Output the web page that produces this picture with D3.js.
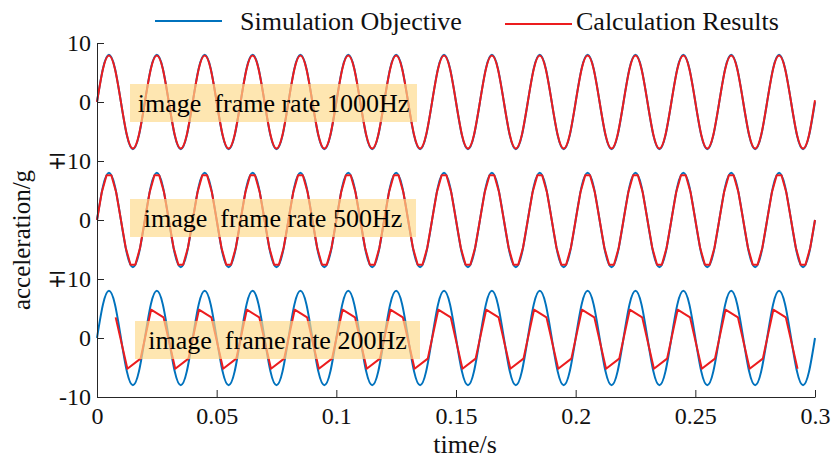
<!DOCTYPE html>
<html>
<head>
<meta charset="utf-8">
<script src="https://cdn.jsdelivr.net/npm/d3@7"></script>
<style>
  html, body { margin: 0; padding: 0; background: #fff; }
  svg { display: block; }
  svg text { font-family: 'Liberation Serif', 'Times New Roman', Times, 'DejaVu Serif', serif; }
  .axis path, .axis line { stroke: #262626; stroke-width: 1; }
  .axis text { fill: #111; font-size: 24px; font-family: 'Liberation Serif', 'Times New Roman', Times, 'DejaVu Serif', serif; }
  .panel-label { white-space: pre; font-size: 26px; fill: #000; }
</style>
</head>
<body>
<svg id="chart" width="837" height="460"></svg>
<script>
// ── Data ──────────────────────────────────────────────────────────────────────
// Simulation objective, sampled every 2.5 ms (one row = one 20 ms cycle)
const SIM_STEP = 0.0025;
const simValues = [
  0, 5.7, 8, 5.7, 0, -5.7, -8, -5.7,
  0, 5.7, 8, 5.7, 0, -5.7, -8, -5.7,
  0, 5.7, 8, 5.7, 0, -5.7, -8, -5.7,
  0, 5.7, 8, 5.7, 0, -5.7, -8, -5.7,
  0, 5.7, 8, 5.7, 0, -5.7, -8, -5.7,
  0, 5.7, 8, 5.7, 0, -5.7, -8, -5.7,
  0, 5.7, 8, 5.7, 0, -5.7, -8, -5.7,
  0, 5.7, 8, 5.7, 0, -5.7, -8, -5.7,
  0, 5.7, 8, 5.7, 0, -5.7, -8, -5.7,
  0, 5.7, 8, 5.7, 0, -5.7, -8, -5.7,
  0, 5.7, 8, 5.7, 0, -5.7, -8, -5.7,
  0, 5.7, 8, 5.7, 0, -5.7, -8, -5.7,
  0, 5.7, 8, 5.7, 0, -5.7, -8, -5.7,
  0, 5.7, 8, 5.7, 0, -5.7, -8, -5.7,
  0, 5.7, 8, 5.7, 0, -5.7, -8, -5.7,
  0
];

// Calculation results at 1000 Hz frame rate (read every 2.5 ms)
const RES1000_STEP = 0.0025;
const res1000Values = [
  0, 5.6, 7.9, 5.6, 0, -5.6, -7.9, -5.6,
  0, 5.6, 7.9, 5.6, 0, -5.6, -7.9, -5.6,
  0, 5.6, 7.9, 5.6, 0, -5.6, -7.9, -5.6,
  0, 5.6, 7.9, 5.6, 0, -5.6, -7.9, -5.6,
  0, 5.6, 7.9, 5.6, 0, -5.6, -7.9, -5.6,
  0, 5.6, 7.9, 5.6, 0, -5.6, -7.9, -5.6,
  0, 5.6, 7.9, 5.6, 0, -5.6, -7.9, -5.6,
  0, 5.6, 7.9, 5.6, 0, -5.6, -7.9, -5.6,
  0, 5.6, 7.9, 5.6, 0, -5.6, -7.9, -5.6,
  0, 5.6, 7.9, 5.6, 0, -5.6, -7.9, -5.6,
  0, 5.6, 7.9, 5.6, 0, -5.6, -7.9, -5.6,
  0, 5.6, 7.9, 5.6, 0, -5.6, -7.9, -5.6,
  0, 5.6, 7.9, 5.6, 0, -5.6, -7.9, -5.6,
  0, 5.6, 7.9, 5.6, 0, -5.6, -7.9, -5.6,
  0, 5.6, 7.9, 5.6, 0, -5.6, -7.9, -5.6,
  0.3
];

// Calculation results at 500 Hz frame rate (one sample every 2 ms)
const RES500_STEP = 0.002;
const res500Values = [
  0, 4.7, 7.6, 7.6, 4.7, 0, -4.7, -7.6, -7.6, -4.7,
  0, 4.7, 7.6, 7.6, 4.7, 0, -4.7, -7.6, -7.6, -4.7,
  0, 4.7, 7.6, 7.6, 4.7, 0, -4.7, -7.6, -7.6, -4.7,
  0, 4.7, 7.6, 7.6, 4.7, 0, -4.7, -7.6, -7.6, -4.7,
  0, 4.7, 7.6, 7.6, 4.7, 0, -4.7, -7.6, -7.6, -4.7,
  0, 4.7, 7.6, 7.6, 4.7, 0, -4.7, -7.6, -7.6, -4.7,
  0, 4.7, 7.6, 7.6, 4.7, 0, -4.7, -7.6, -7.6, -4.7,
  0, 4.7, 7.6, 7.6, 4.7, 0, -4.7, -7.6, -7.6, -4.7,
  0, 4.7, 7.6, 7.6, 4.7, 0, -4.7, -7.6, -7.6, -4.7,
  0, 4.7, 7.6, 7.6, 4.7, 0, -4.7, -7.6, -7.6, -4.7,
  0, 4.7, 7.6, 7.6, 4.7, 0, -4.7, -7.6, -7.6, -4.7,
  0, 4.7, 7.6, 7.6, 4.7, 0, -4.7, -7.6, -7.6, -4.7,
  0, 4.7, 7.6, 7.6, 4.7, 0, -4.7, -7.6, -7.6, -4.7,
  0, 4.7, 7.6, 7.6, 4.7, 0, -4.7, -7.6, -7.6, -4.7,
  0, 4.7, 7.6, 7.6, 4.7, 0, -4.7, -7.6, -7.6, -4.7,
  0
];

// Calculation results at 200 Hz frame rate (uneven timestamps)
const res200Time = [
  0.0078, 0.0127, 0.0182, 0.0226,
  0.0278, 0.0327, 0.0382, 0.0426,
  0.0478, 0.0527, 0.0582, 0.0626,
  0.0678, 0.0727, 0.0782, 0.0826,
  0.0878, 0.0927, 0.0982, 0.1026,
  0.1078, 0.1127, 0.1182, 0.1226,
  0.1278, 0.1327, 0.1382, 0.1426,
  0.1478, 0.1527, 0.1582, 0.1626,
  0.1678, 0.1727, 0.1782, 0.1826,
  0.1878, 0.1927, 0.1982, 0.2026,
  0.2078, 0.2127, 0.2182, 0.2226,
  0.2278, 0.2327, 0.2382, 0.2426,
  0.2478, 0.2527, 0.2582, 0.2626,
  0.2678, 0.2727, 0.2782, 0.2826,
  0.2878, 0.2927
];
const res200Values = [
  3.5, -5.2, -3.5, 4.8,
  3.5, -5.2, -3.5, 4.8,
  3.5, -5.2, -3.5, 4.8,
  3.5, -5.2, -3.5, 4.8,
  3.5, -5.2, -3.5, 4.8,
  3.5, -5.2, -3.5, 4.8,
  3.5, -5.2, -3.5, 4.8,
  3.5, -5.2, -3.5, 4.8,
  3.5, -5.2, -3.5, 4.8,
  3.5, -5.2, -3.5, 4.8,
  3.5, -5.2, -3.5, 4.8,
  3.5, -5.2, -3.5, 4.8,
  3.5, -5.2, -3.5, 4.8,
  3.5, -5.2, -3.5, 4.8,
  3.5, -5.2
];

const xTicks      = [0, 0.05, 0.1, 0.15, 0.2, 0.25, 0.3];
const xTickLabels = ['0', '0.05', '0.1', '0.15', '0.2', '0.25', '0.3'];
const yTickValues = [[10, 0, -10], [0, -10], [0, -10]];
const yTickLabels = [['10', '0', '\u221310'], ['0', '\u221310'], ['0', '-10']];
const panelLabels = ['image  frame rate 1000Hz', 'image  frame rate 500Hz', 'image  frame rate 200Hz'];
const seriesNames = ['Simulation Objective', 'Calculation Results'];

// ── Layout & style ────────────────────────────────────────────────────────────
const BLUE = '#0072bd';
const RED  = '#ec1c1e';
const plotLeft = 97, plotRight = 815, plotTop = 43, panelH = 118;

// label boxes, px offsets relative to each panel's zero line
const boxes = [
  { x0: 130, x1: 417, top: -18, bottom: 20 },
  { x0: 130, x1: 416, top: -21, bottom: 17 },
  { x0: 135, x1: 420, top: -17, bottom: 21 },
];

const svg = d3.select('#chart');

const x = d3.scaleLinear().domain([0, 0.3]).range([plotLeft, plotRight]);

const simPts  = simValues.map((v, i) => ({ t: i * SIM_STEP, v }));
const r1000   = res1000Values.map((v, i) => ({ t: i * RES1000_STEP, v }));
const r500    = res500Values.map((v, i) => ({ t: i * RES500_STEP, v }));
const r200    = res200Values.map((v, i) => ({ t: res200Time[i], v }));

const results = [
  { pts: r1000, curve: d3.curveNatural },
  { pts: r500,  curve: d3.curveLinear },
  { pts: r200,  curve: d3.curveLinear },
];

results.forEach((res, i) => {
  const y = d3.scaleLinear()
    .domain([-10, 10])
    .range([plotTop + (i + 1) * panelH, plotTop + i * panelH]);

  const line = curve => d3.line().x(d => x(d.t)).y(d => y(d.v)).curve(curve);

  const g = svg.append('g');

  g.append('path')
    .datum(simPts)
    .attr('fill', 'none').attr('stroke', BLUE).attr('stroke-width', 2)
    .attr('d', line(d3.curveNatural));

  g.append('path')
    .datum(res.pts)
    .attr('fill', 'none').attr('stroke', RED).attr('stroke-width', 2)
    .attr('stroke-linejoin', 'round')
    .attr('d', line(res.curve));

  // translucent label box
  const b = boxes[i];
  const y0 = y(0);
  g.append('rect')
    .attr('x', b.x0).attr('y', y0 + b.top)
    .attr('width', b.x1 - b.x0).attr('height', b.bottom - b.top)
    .attr('fill', 'rgb(254,218,140)').attr('fill-opacity', 0.68);
  g.append('text')
    .attr('class', 'panel-label')
    .attr('x', (b.x0 + b.x1) / 2).attr('y', y0 + (b.top + b.bottom) / 2 + 9)
    .attr('text-anchor', 'middle')
    .text(panelLabels[i]);

  // left axis piece for this panel
  svg.append('g').attr('class', 'axis')
    .attr('transform', `translate(${plotLeft},0)`)
    .call(d3.axisLeft(y)
      .tickValues(yTickValues[i])
      .tickFormat((d, j) => yTickLabels[i][j])
      .tickSizeInner(-7).tickSizeOuter(0).tickPadding(6));
});

// bottom axis
svg.append('g').attr('class', 'axis')
  .attr('transform', `translate(0,${plotTop + 3 * panelH})`)
  .call(d3.axisBottom(x)
    .tickValues(xTicks)
    .tickFormat((d, j) => xTickLabels[j])
    .tickSizeInner(-7).tickSizeOuter(0).tickPadding(10));

// axis titles
svg.append('text')
  .attr('x', 465).attr('y', 453)
  .attr('text-anchor', 'middle').attr('font-size', 26).attr('fill', '#111')
  .text('time/s');

svg.append('text')
  .attr('transform', 'translate(30,240) rotate(-90)')
  .attr('text-anchor', 'middle').attr('font-size', 25).attr('fill', '#111')
  .text('acceleration/g');

// legend
const legend = [
  { name: seriesNames[0], color: BLUE, x0: 155, x1: 222, ly: 21, tx: 240 },
  { name: seriesNames[1], color: RED,  x0: 505, x1: 572, ly: 24, tx: 576 },
];
legend.forEach(l => {
  svg.append('line')
    .attr('x1', l.x0).attr('x2', l.x1).attr('y1', l.ly).attr('y2', l.ly)
    .attr('stroke', l.color).attr('stroke-width', 2);
  svg.append('text')
    .attr('x', l.tx).attr('y', 30)
    .attr('font-size', 26).attr('fill', '#111')
    .text(l.name);
});
</script>
</body>
</html>
